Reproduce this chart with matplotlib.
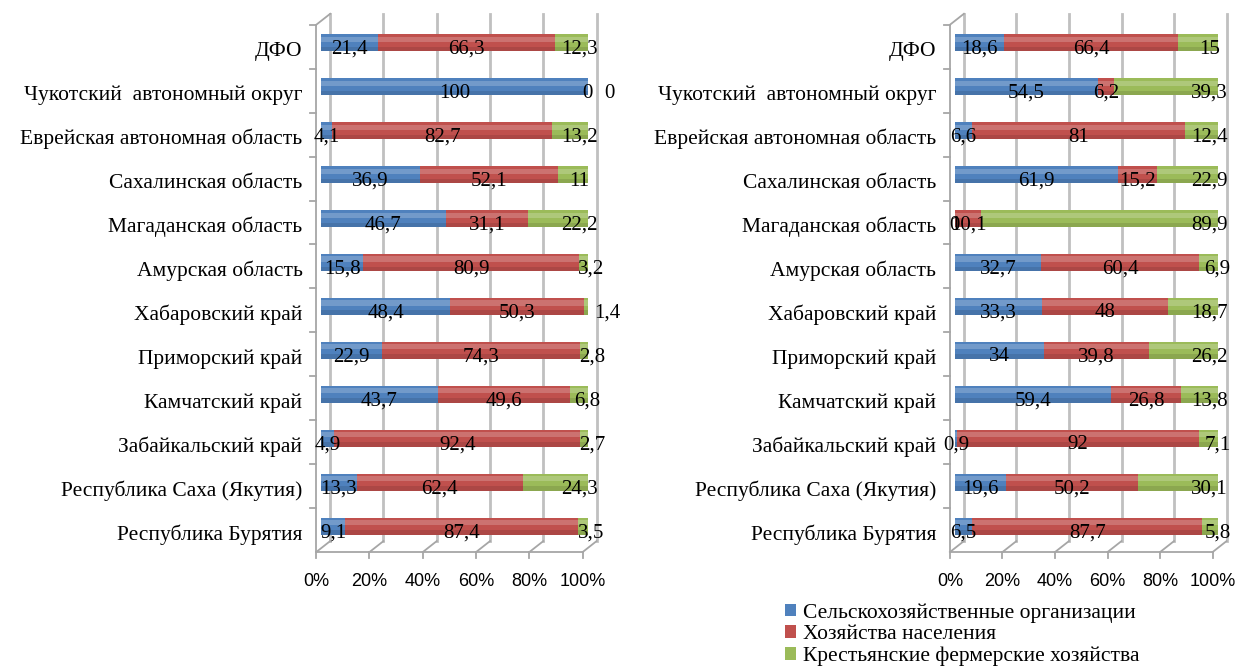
import matplotlib
matplotlib.use('Agg')
import matplotlib.pyplot as plt
from matplotlib.patches import Patch
from matplotlib.transforms import ScaledTranslation

regions = ['ДФО', 'Чукотский  автономный округ', 'Еврейская автономная область',
           'Сахалинская область', 'Магаданская область', 'Амурская область',
           'Хабаровский край', 'Приморский край', 'Камчатский край',
           'Забайкальский край', 'Республика Саха (Якутия)', 'Республика Бурятия']
series_names = ['Сельскохозяйственные организации', 'Хозяйства населения',
                'Крестьянские фермерские хозяйства']

left_org = [21.4, 100, 4.1, 36.9, 46.7, 15.8, 48.4, 22.9, 43.7, 4.9, 13.3, 9.1]
left_pop = [66.3, 0, 82.7, 52.1, 31.1, 80.9, 50.3, 74.3, 49.6, 92.4, 62.4, 87.4]
left_farm = [12.3, 0, 13.2, 11, 22.2, 3.2, 1.4, 2.8, 6.8, 2.7, 24.3, 3.5]

right_org = [18.6, 54.5, 6.6, 61.9, 0, 32.7, 33.3, 34, 59.4, 0.9, 19.6, 6.5]
right_pop = [66.4, 6.2, 81, 15.2, 10.1, 60.4, 48, 39.8, 26.8, 92, 50.2, 87.7]
right_farm = [15, 39.3, 12.4, 22.9, 89.9, 6.9, 18.7, 26.2, 13.8, 7.1, 30.1, 5.8]

ticks = [0, 20, 40, 60, 80, 100]

colors = ['#4F81BD', '#C0504D', '#9BBB59']
serif = 'Liberation Serif'
sans = 'Liberation Sans'
frame_c = '#A6A6A6'
grid_c = '#C0C0C0'


def fmt(v):
    return f'{v:g}'.replace('.', ',')


def px(fig, dx, dy):
    return ScaledTranslation(dx / fig.dpi, dy / fig.dpi, fig.dpi_scale_trans)


def draw_panel(ax, fig, series):
    n = len(regions)
    ypos = list(range(n))
    h = 0.39
    totals = [sum(s[i] for s in series) for i in range(n)]
    lefts = [0.0] * n
    for k, s in enumerate(series):
        w = [s[i] / totals[i] * 100 for i in range(n)]
        ax.barh(ypos, w, left=lefts, height=h, color=colors[k], zorder=3)
        # cylinder-like shading
        ax.barh([y - h * 0.2 for y in ypos], w, left=lefts, height=h * 0.3,
                color='white', alpha=0.2, zorder=4, linewidth=0)
        ax.barh([y + h * 0.37 for y in ypos], w, left=lefts, height=h * 0.26,
                color='black', alpha=0.1, zorder=4, linewidth=0)
        for i in range(n):
            cx = lefts[i] + w[i] / 2
            if k == 2:
                cx = max(cx, 97)
                if w[i] < 8:
                    cx += 3
                if w[i] < 2:
                    cx += 5
            ax.text(cx, ypos[i] + 0.15, fmt(s[i]), ha='center', va='center',
                    fontsize=15, family=serif, color='black', zorder=6,
                    clip_on=False)
        lefts = [lefts[i] + w[i] for i in range(n)]

    ax.set_xlim(0, 100)
    ax.set_ylim(n - 0.5, -0.5)
    top, bot = -0.5, n - 0.5

    # 3D frame: front plane shifted left/down, back wall right/up
    front = ax.transData + px(fig, -5, -4)
    back = ax.transData + px(fig, 9, 7)
    for t in ticks:
        ax.plot([t, t], [bot, top], color=grid_c, lw=2, transform=back,
                zorder=1, clip_on=False)
    ax.plot([0, 100], [bot, bot], color=frame_c, lw=1.3, transform=front,
            zorder=2, clip_on=False)
    ax.plot([0, 0], [bot, top], color=frame_c, lw=1.3, transform=front,
            zorder=2, clip_on=False)
    for t in ticks:
        x0, y0 = front.transform((t, bot))
        x1, y1 = back.transform((t, bot))
        ax.plot([x0, x1], [y0, y1], color=frame_c, lw=1.3,
                transform=None, zorder=2, clip_on=False)
        ax.plot([x0, x0], [y0, y0 - 6], color=frame_c, lw=1.3,
                transform=None, zorder=2, clip_on=False)
    x0, y0 = front.transform((0, top))
    x1, y1 = back.transform((0, top))
    ax.plot([x0, x1], [y0, y1], color=frame_c, lw=1.3, transform=None,
            zorder=2, clip_on=False)
    for yb in [y + 0.5 for y in ypos[:-1]] + [top]:
        xa, ya = front.transform((0, yb))
        ax.plot([xa - 6, xa], [ya, ya], color=frame_c, lw=1.3,
                transform=None, zorder=2, clip_on=False)

    ax.set_xticks(ticks)
    ax.set_xticklabels([f'{t}%' for t in ticks], family=sans, fontsize=13)
    ax.tick_params(axis='x', length=0, pad=18)
    for lab in ax.get_xticklabels():
        lab.set_transform(lab.get_transform() + px(fig, -5, 0))
    ax.set_yticks(ypos)
    ax.set_yticklabels(regions, family=serif, fontsize=15.5)
    ax.tick_params(axis='y', length=0, pad=13.5)
    for lab in ax.get_yticklabels():
        lab.set_transform(lab.get_transform() + px(fig, 0, -6))
    for side in ax.spines:
        ax.spines[side].set_visible(False)


fig = plt.figure(figsize=(12.45, 6.70), dpi=100)
ax1 = fig.add_axes([0.258, 0.182, 0.214, 0.787])
ax2 = fig.add_axes([0.767, 0.182, 0.211, 0.787])
draw_panel(ax1, fig, [left_org, left_pop, left_farm])
draw_panel(ax2, fig, [right_org, right_pop, right_farm])

handles = [Patch(facecolor=c) for c in colors]
fig.legend(handles, series_names, loc='upper left', bbox_to_anchor=(0.622, 0.116),
           frameon=False, prop={'family': serif, 'size': 15.5}, handlelength=0.5,
           handleheight=0.5, handletextpad=0.35, labelspacing=0.12, borderpad=0)

fig.savefig('out.png', dpi=100)
